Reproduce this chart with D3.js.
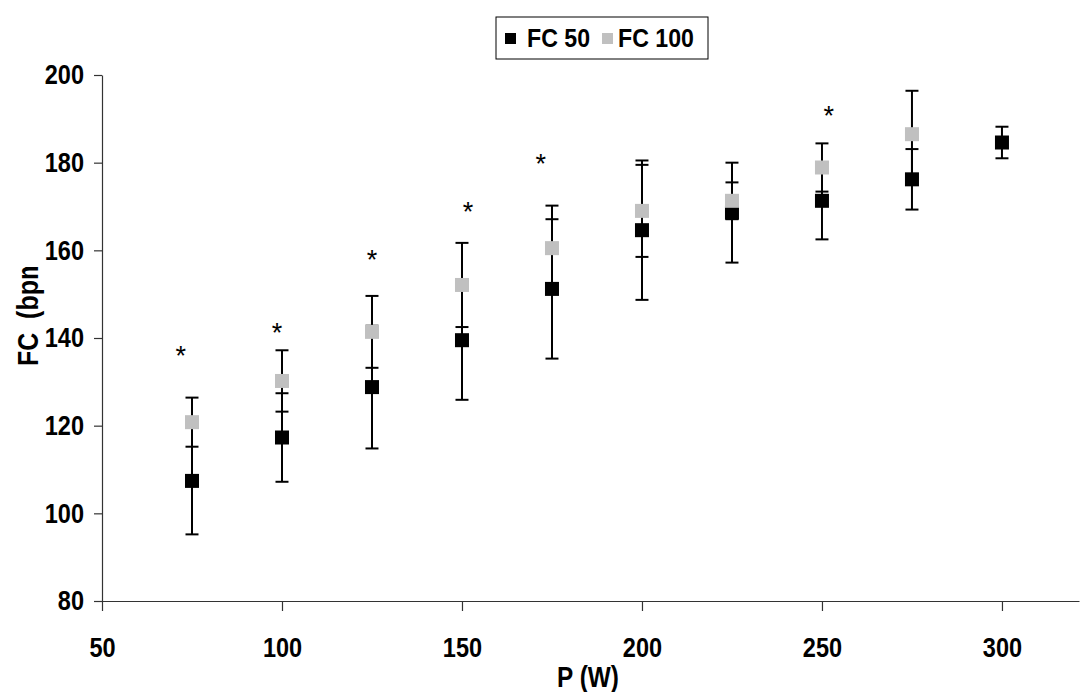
<!DOCTYPE html>
<html><head><meta charset="utf-8">
<script src="https://cdn.jsdelivr.net/npm/d3@7"></script>
<style>
html,body{margin:0;padding:0;background:#fff;}
svg text{font-family:"Liberation Sans",Arial,sans-serif;}
</style></head>
<body>
<svg id="chart" width="1081" height="692"></svg>
<script>
const powers = [75,100,125,150,175,200,225,250,275,300];
const fc50Mean = [107.4,117.3,128.8,139.5,151.2,164.6,168.6,171.3,176.2,184.6];
const fc50Sd   = [12.2,10.1,14.0,13.6,15.9,15.9,11.4,8.8,6.9,3.6];
const fc100Powers = [75,100,125,150,175,200,225,250,275];
const fc100Mean = [120.8,130.2,141.4,152.1,160.5,169.0,171.3,178.9,186.5];
const fc100Sd   = [5.6,7.0,8.2,9.6,9.7,10.5,4.2,5.5,9.9];
const starX = [71.9,98.6,125,151.7,171.9,251.9];
const starY = [137.3,142.5,159.2,170.1,181.1,192.0];
const xTicks = [50,100,150,200,250,300];
const yTicks = [80,100,120,140,160,180,200];
const seriesNames = ["FC 50","FC 100"];
const seriesColors = ["#000000","#c0c0c0"];

const svg = d3.select("#chart");
const x = d3.scaleLinear().domain([50,321.4]).range([102,1079]);
const y = d3.scaleLinear().domain([80,200]).range([601,75]);

function squeeze(f){
  return function(sel){
    sel.each(function(){
      const L = this.getComputedTextLength();
      d3.select(this).attr("textLength", L*f).attr("lengthAdjust","spacingAndGlyphs");
    });
  };
}

// axes
const gx = svg.append("g").attr("transform",`translate(0,${y(80)})`)
  .call(d3.axisBottom(x).tickValues(xTicks).tickSize(10).tickPadding(26).tickSizeOuter(0).tickFormat(d3.format("d")));
const gy = svg.append("g").attr("transform",`translate(${x(50)},0)`)
  .call(d3.axisLeft(y).tickValues(yTicks).tickSize(8).tickPadding(10).tickSizeOuter(0).tickFormat(d3.format("d")));
[gx,gy].forEach(g=>{
  g.select(".domain").attr("stroke","#333").attr("stroke-width",1.2);
  g.selectAll(".tick line").attr("stroke","#333").attr("stroke-width",1.2);
  g.selectAll(".tick text").attr("fill","#000").style("font-size","28px").style("font-weight","bold");
  g.selectAll(".tick text").call(squeeze(0.84));
});

// axis titles
svg.append("text").attr("x",588).attr("y",687).attr("text-anchor","middle")
  .style("font-size","29px").style("font-weight","bold").text("P (W)").call(squeeze(0.84));
svg.append("clipPath").attr("id","yclip").append("rect").attr("x",0).attr("y",267).attr("width",60).attr("height",130);
svg.append("g").attr("clip-path","url(#yclip)")
  .append("text").attr("transform","translate(38,366) rotate(-90)").attr("text-anchor","start")
  .style("font-size","29px").style("font-weight","bold").style("white-space","pre").text("FC  (bpm)").call(squeeze(0.86));

// error bars + markers
const capW = 13, sq = 14;
function drawSeries(xs, means, sds, color){
  const g = svg.append("g");
  xs.forEach((p,i)=>{
    const cx = x(p), lo = y(means[i]-sds[i]), hi = y(means[i]+sds[i]);
    g.append("line").attr("x1",cx).attr("x2",cx).attr("y1",lo).attr("y2",hi).attr("stroke","#000").attr("stroke-width",2);
    g.append("line").attr("x1",cx-capW/2).attr("x2",cx+capW/2).attr("y1",lo).attr("y2",lo).attr("stroke","#000").attr("stroke-width",2);
    g.append("line").attr("x1",cx-capW/2).attr("x2",cx+capW/2).attr("y1",hi).attr("y2",hi).attr("stroke","#000").attr("stroke-width",2);
  });
  g.selectAll("rect").data(xs).enter().append("rect")
    .attr("x",(d)=>x(d)-sq/2).attr("y",(d,i)=>y(means[i])-sq/2)
    .attr("width",sq).attr("height",sq).attr("fill",color);
}
drawSeries(powers, fc50Mean, fc50Sd, seriesColors[0]);
drawSeries(fc100Powers, fc100Mean, fc100Sd, seriesColors[1]);

// asterisks
svg.selectAll("text.star").data(starX).enter().append("text").attr("class","star")
  .attr("x",d=>x(d)).attr("y",(d,i)=>y(starY[i])+15).attr("text-anchor","middle")
  .style("font-size","27px").attr("fill","#000").text("*");

// legend
const lg = svg.append("g");
lg.append("rect").attr("x",496).attr("y",17).attr("width",212).attr("height",42)
  .attr("fill","#fff").attr("stroke","#000").attr("stroke-width",1);
const legX = [505,602], legTX = [527,618];
seriesNames.forEach((n,i)=>{
  lg.append("rect").attr("x",legX[i]).attr("y",33).attr("width",11).attr("height",11).attr("fill",seriesColors[i]);
  lg.append("text").attr("x",legTX[i]).attr("y",47).style("font-size","26px").style("font-weight","bold").text(n).call(squeeze(0.89));
});
</script>
</body></html>
